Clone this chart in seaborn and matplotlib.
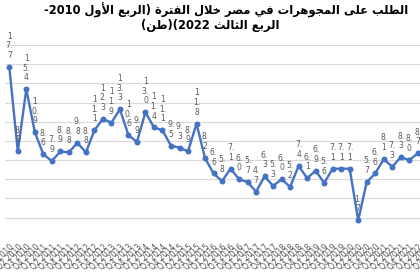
import re
import unicodedata
import numpy as np
import pandas as pd
import matplotlib
matplotlib.use("Agg")
import matplotlib.pyplot as plt
import seaborn as sns

# ---------------- data ----------------
title_line1 = "الطلب على المجوهرات في مصر خلال الفترة (الربع الأول 2010-"
title_line2 = "الربع الثالث 2022)(طن)"

years = [2010, 2011, 2012, 2013, 2014, 2015, 2016, 2017, 2018, 2019, 2020, 2021, 2022]
quarters = ["Q1", "Q2", "Q3", "Q4"]
categories = [f"{q} {y}" for y in years for q in quarters][:51]  # Q1 2010 .. Q3 2022

demand = [17.7, 8.9, 15.4, 10.9, 8.6, 7.9, 8.9, 8.8, 9.8, 8.8,
          11.1, 12.3, 11.9, 13.3, 10.6, 9.9, 13.0, 11.4, 11.1, 9.5,
          9.3, 8.9, 11.8, 8.2, 6.6, 5.8, 7.1, 6.0, 5.7, 4.7,
          6.3, 5.3, 6.0, 5.2, 7.4, 6.1, 6.9, 5.6, 7.1, 7.1,
          7.1, 1.7, 5.7, 6.6, 8.1, 7.3, 8.3, 8.0, 8.7]

# ---------------- Arabic shaping helpers ----------------
RIGHT_ONLY = set("اأإآدذرزوؤةى")
LAM_ALEF = {"ا": "ARABIC LIGATURE LAM WITH ALEF",
            "أ": "ARABIC LIGATURE LAM WITH ALEF WITH HAMZA ABOVE",
            "إ": "ARABIC LIGATURE LAM WITH ALEF WITH HAMZA BELOW",
            "آ": "ARABIC LIGATURE LAM WITH ALEF WITH MADDA ABOVE"}


def is_ar(c):
    return "\u0621" <= c <= "\u064A"


def pform(c, form):
    try:
        return unicodedata.lookup(unicodedata.name(c) + " " + form + " FORM")
    except KeyError:
        return c


def shape(text):
    toks = []
    i = 0
    while i < len(text):
        c = text[i]
        if c == "ل" and i + 1 < len(text) and text[i + 1] in LAM_ALEF:
            toks.append(("lig", LAM_ALEF[text[i + 1]]))
            i += 2
            continue
        toks.append(("ch", c))
        i += 1

    def dual(t):
        return t is not None and t[0] == "ch" and is_ar(t[1]) and t[1] not in RIGHT_ONLY

    def arab(t):
        return t is not None and (t[0] == "lig" or is_ar(t[1]))

    out = []
    for k, (kind, val) in enumerate(toks):
        prev = toks[k - 1] if k > 0 else None
        nxt = toks[k + 1] if k + 1 < len(toks) else None
        if kind == "lig":
            jp = dual(prev)
            out.append(unicodedata.lookup(val + (" FINAL FORM" if jp else " ISOLATED FORM")))
            continue
        if not is_ar(val):
            out.append(val)
            continue
        jp = dual(prev)
        jn = dual(toks[k]) and arab(nxt)
        f = "MEDIAL" if (jp and jn) else "FINAL" if jp else "INITIAL" if jn else "ISOLATED"
        out.append(pform(val, f))
    return "".join(out)


MIRROR = {"(": ")", ")": "("}


def visual_rtl(line):
    s = shape(line)
    runs = re.findall(r"[0-9]+|[^0-9]+", s)
    out = []
    for r in reversed(runs):
        if r[0].isdigit():
            out.append(r)
        else:
            out.append("".join(MIRROR.get(c, c) for c in reversed(r)))
    return "".join(out)


# ---------------- plot ----------------
sns.set_style("white")
plt.rcParams["font.family"] = ["DejaVu Sans"]

W, H = 420, 280
fig = plt.figure(figsize=(W / 100, H / 100), dpi=100)
step = 8.51
left_px = 9.3 - 0.5 * step
ax = fig.add_axes([left_px / W, (H - 236.7) / H, len(categories) * step / W, 191.6 / H])

df = pd.DataFrame({"pos": np.arange(len(demand)), "val": demand})
sns.lineplot(data=df, x="pos", y="val", ax=ax, color="#4472C4", lw=1.7,
             marker="o", markersize=4.3, markeredgewidth=0,
             markerfacecolor="#4472C4", clip_on=False)

ax.set_xlim(-0.5, len(categories) - 0.5)
ax.set_ylim(0, 20)
ax.set_yticks(np.arange(0, 21, 2))
ax.set_yticklabels([])
ax.yaxis.grid(True, color="#d9d9d9", lw=0.8)
ax.xaxis.grid(False)
ax.set_axisbelow(True)
ax.tick_params(axis="y", length=0)
ax.set_xticks(np.arange(len(categories)))
ax.set_xticklabels(categories, rotation=45, ha="right", rotation_mode="anchor",
                   fontsize=5.5, color="#595959")
ax.tick_params(axis="x", length=0, pad=4)
for sp in ax.spines.values():
    sp.set_visible(False)
ax.set_xlabel("")
ax.set_ylabel("")

for i, v in enumerate(demand):
    s = f"{v:.1f}"
    parts = ([s[:-3]] if len(s) > 3 else []) + [s[-3:-1], s[-1]]
    ax.annotate("\n".join(parts), (i, v), xytext=(0, 5), textcoords="offset points",
                ha="center", va="bottom", fontsize=5.5, color="#595959",
                linespacing=1.1)

fig.text(226 / W, 1 - 10 / H, visual_rtl(title_line1), ha="center", va="center",
         fontsize=8.3, fontweight="bold", color="black")
fig.text(210 / W, 1 - 26 / H, visual_rtl(title_line2), ha="center", va="center",
         fontsize=8.3, fontweight="bold", color="black")

fig.savefig("out.png", dpi=100)
